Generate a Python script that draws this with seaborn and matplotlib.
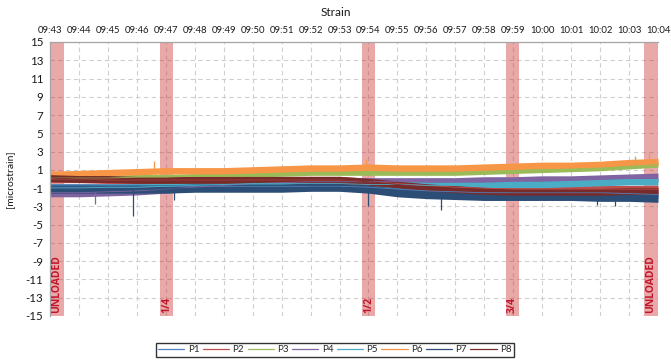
import numpy as np
import pandas as pd
import matplotlib
matplotlib.use("Agg")
import matplotlib.pyplot as plt
import seaborn as sns
from matplotlib.lines import Line2D

# ---------------- data ----------------
minutes = list(range(22))
time_labels = ["09:43", "09:44", "09:45", "09:46", "09:47", "09:48", "09:49", "09:50",
               "09:51", "09:52", "09:53", "09:54", "09:55", "09:56", "09:57", "09:58",
               "09:59", "10:00", "10:01", "10:02", "10:03", "10:04"]
series_names = ["P1", "P2", "P3", "P4", "P5", "P6", "P7", "P8"]
series_colors = ["#4F81BD", "#C0504D", "#9BBB59", "#8064A2",
                 "#4BACC6", "#F79646", "#2C4D75", "#772C2A"]

# approximate centre level of each noisy trace, one value per minute
p1 = [-0.9, -0.9, -0.9, -0.9, -0.8, -0.8, -0.8, -0.8, -0.8, -0.8, -0.8, -0.9, -1.1, -1.3, -1.4, -1.5, -1.5, -1.5, -1.5, -1.5, -1.6, -1.7]
p2 = [0.0, 0.0, -0.1, -0.1, -0.1, -0.1, -0.1, -0.1, -0.1, -0.1, -0.1, -0.3, -0.5, -0.7, -0.9, -1.0, -1.1, -1.1, -1.1, -1.1, -1.1, -1.1]
p3 = [0.1, 0.1, 0.1, 0.2, 0.2, 0.3, 0.4, 0.5, 0.6, 0.7, 0.7, 0.7, 0.7, 0.7, 0.7, 0.8, 0.9, 1.0, 1.1, 1.2, 1.4, 1.6]
p4 = [-1.5, -1.5, -1.4, -1.3, -1.1, -0.9, -0.7, -0.5, -0.4, -0.3, -0.3, -0.3, -0.3, -0.3, -0.3, -0.2, -0.2, -0.1, -0.1, 0.0, 0.1, 0.2]
p5 = [-1.0, -1.0, -0.9, -0.9, -0.8, -0.7, -0.6, -0.5, -0.5, -0.5, -0.5, -0.6, -0.6, -0.7, -0.7, -0.7, -0.6, -0.6, -0.5, -0.4, -0.3, -0.3]
p6 = [0.5, 0.6, 0.7, 0.8, 0.9, 0.9, 0.9, 1.0, 1.1, 1.2, 1.2, 1.3, 1.2, 1.2, 1.2, 1.3, 1.4, 1.5, 1.5, 1.6, 1.8, 1.9]
p7 = [-1.1, -1.1, -1.1, -1.1, -1.1, -1.0, -1.0, -1.0, -1.0, -0.9, -0.9, -1.1, -1.5, -1.7, -1.8, -1.9, -1.9, -1.9, -1.9, -2.0, -2.0, -2.1]
p8 = [0.1, 0.0, 0.0, -0.1, -0.1, -0.1, -0.1, -0.1, -0.1, -0.1, -0.1, -0.3, -0.6, -0.9, -1.1, -1.3, -1.4, -1.4, -1.4, -1.4, -1.3, -1.3]
levels = [p1, p2, p3, p4, p5, p6, p7, p8]

# half-height of the noise band of each trace
noise_half = [0.4, 0.4, 0.3, 0.45, 0.35, 0.35, 0.45, 0.38]

# isolated spikes (series, minute, tip value)
spikes = [("P7", 2.85, -4.0), ("P4", 1.55, -2.7), ("P6", 3.6, 2.0), ("P7", 11.0, -3.0),
          ("P6", 10.9, 2.2), ("P7", 13.5, -3.4), ("P7", 19.5, -3.0), ("P6", 20.7, 3.0),
          ("P3", 20.2, 2.5), ("P7", 4.3, -2.3), ("P7", 18.9, -2.9)]

# load phases (shaded spans) and their labels
phase_start = [0.0, 3.8, 10.78, 15.75, 20.5]
phase_end = [0.47, 4.25, 11.23, 16.2, 21.0]
phase_labels = ["UNLOADED", "1/4", "1/2", "3/4", "UNLOADED"]

# ---------------- build long table: low/high edge of each band ----------------
rows = []
for name, lev, hw in zip(series_names, levels, noise_half):
    for m, v in zip(minutes, lev):
        rows.append((name, m, v - hw))
        rows.append((name, m, v + hw))
df = pd.DataFrame(rows, columns=["series", "minute", "value"])

# ---------------- figure ----------------
sns.set_theme(style="white")
plt.rcParams["font.family"] = ["Lato", "DejaVu Sans"]

fig = plt.figure(figsize=(6.71, 3.61), dpi=100)
ax = fig.add_axes([50 / 671, 1 - 316 / 361, 608 / 671, 274 / 361])

# grid
for m in minutes:
    ax.axvline(m, color="#CFCFCF", lw=0.8, ls=(0, (4, 3)), zorder=0)
for yv in range(-15, 16, 2):
    ax.axhline(yv, color="#CFCFCF", lw=0.8, ls=(0, (4, 3)), zorder=0)

# load phases
for a, b, lab in zip(phase_start, phase_end, phase_labels):
    ax.axvspan(a, b, color="#CC3333", alpha=0.42, lw=0, zorder=0.5)
    ax.text((a + b) / 2, -14.7, lab, rotation=90, ha="center", va="bottom",
            color="#C0182E", fontsize=7.5, fontweight="bold",
            family=["Open Sans", "DejaVu Sans"], zorder=5)

sns.lineplot(data=df, x="minute", y="value", hue="series", hue_order=series_names,
             palette=series_colors, estimator="mean", errorbar=("pi", 100),
             err_kws={"alpha": 1.0, "linewidth": 0}, linewidth=0.6,
             legend=False, ax=ax)

cmap = dict(zip(series_names, series_colors))
lev_map = dict(zip(series_names, levels))
for s, t, tip in spikes:
    base = lev_map[s][int(round(t))]
    ax.vlines(t, base, tip, color=cmap[s], lw=0.9, zorder=3)

ax.set_xlim(0, 21)
ax.set_ylim(-15, 15)
ax.xaxis.tick_top()
ax.set_xticks(minutes)
ax.set_xticklabels(time_labels, fontsize=6.8)
ax.set_yticks(list(range(-15, 16, 2)))
ax.set_yticklabels([str(v) for v in range(-15, 16, 2)], fontsize=8.3)
ax.tick_params(axis="both", length=0, pad=5, colors="#1a1a1a")
ax.set_xlabel("")
ax.set_ylabel("[microstrain]", fontsize=7.5, color="#1a1a1a", labelpad=8)

for side in ["right", "bottom"]:
    ax.spines[side].set_visible(False)
for side in ["top", "left"]:
    ax.spines[side].set_color("#A6A6A6")
    ax.spines[side].set_linewidth(0.9)

fig.text(0.5, 1 - 12 / 361, "Strain", ha="center", va="center", fontsize=8.5, color="#1a1a1a")

handles = [Line2D([0], [0], color=c, lw=0.9) for c in series_colors]
leg = fig.legend(handles, series_names, loc="center", bbox_to_anchor=(335 / 671, 1 - 350 / 361),
                 ncol=8, fontsize=7, frameon=True, fancybox=False, handlelength=2.7,
                 handletextpad=0.35, columnspacing=0.35, borderpad=0.25)
leg.get_frame().set_edgecolor("black")
leg.get_frame().set_linewidth(1.0)

fig.savefig("out.png", dpi=100)
